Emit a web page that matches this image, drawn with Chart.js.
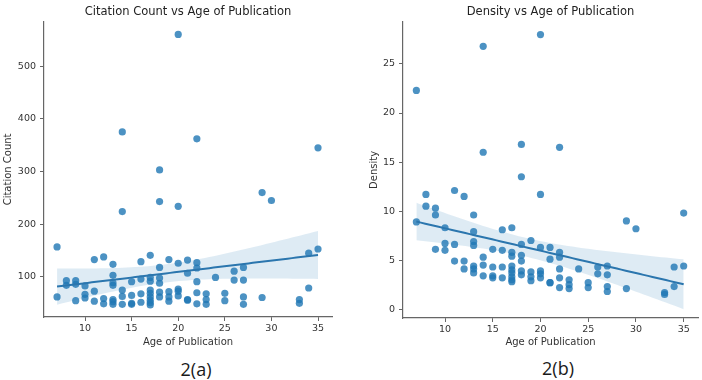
<!DOCTYPE html>
<html><head><meta charset="utf-8">
<script src="https://cdn.jsdelivr.net/npm/chart.js@4/dist/chart.umd.min.js"></script>
<style>
html,body{margin:0;padding:0;background:#fff;width:702px;height:380px;overflow:hidden;position:relative;}
canvas{position:absolute;top:0;}
.cap{position:absolute;font-family:'Open Sans',sans-serif;font-size:18px;color:#1a1a1a;transform:translate(-50%,-50%);white-space:nowrap;}
</style></head><body>
<canvas id="c1" width="345" height="352" style="left:0px;width:345px;height:352px"></canvas>
<canvas id="c2" width="340" height="352" style="left:362px;width:340px;height:352px"></canvas>
<div class="cap" style="left:196px;top:369px">2(a)</div>
<div class="cap" style="left:558px;top:368px">2(b)</div>
<script>
// Age of publication for each paper (x)
const ages = [7,7, 8,8, 9,9,9, 10,10,10, 11,11,11, 12,12,12,
  13,13,13,13,13,13,13, 14,14,14,14,14, 15,15,15,15, 16,16,16,16,
  17,17,17,17,17,17,17,17,17, 18,18,18,18,18,18,18, 19,19,19,19,
  20,20,20,20,20,20, 21,21,21,21, 22,22,22,22,22,22, 23,23,23, 24,
  25,25, 26,26, 27,27,27,27, 29,29, 30, 33,33, 34,34, 35,35];
// Citation count for each paper
const citations = [157,62, 93,84, 93,86,55, 83,67,60, 133,73,54, 138,59,49,
  124,103,89,84,57,53,48, 375,224,75,63,48, 91,65,50,48, 129,96,68,52,
  141,99,92,75,69,62,56,51,47, 303,243,118,98,88,71,62, 133,72,62,54,
  560,234,126,77,73,64, 132,107,57,56, 362,127,117,91,70,49, 68,57,48, 99,
  69,55, 111,94, 118,94,62,48, 260,61, 245, 57,50, 145,79, 345,153];
// Density for each paper
const density = [22.3,8.9, 11.7,10.5, 10.3,9.6,6.1, 8.3,6.7,6.0, 12.1,6.6,4.9, 11.5,4.9,4.1,
  9.6,7.9,6.9,6.5,4.4,4.1,3.7, 26.8,16.0,5.3,4.5,3.4, 6.1,4.3,3.4,3.2, 8.1,6.0,4.3,3.2,
  8.3,5.8,5.4,4.4,4.0,3.7,3.3,3.0,2.8, 16.8,13.5,6.6,5.5,4.9,3.9,3.5, 7.0,3.8,3.3,2.9,
  28.0,11.7,6.3,3.9,3.6,3.2, 6.3,5.1,2.7,2.7, 16.5,5.8,5.3,4.1,3.2,2.2, 3.0,2.5,2.1, 4.1,
  2.7,2.2, 4.3,3.6, 4.4,3.5,2.3,1.8, 9.0,2.1, 8.2, 1.7,1.5, 4.3,2.3, 9.8,4.4];
const xTicks = [10,15,20,25,30,35];
const yTicksCount = [100,200,300,400,500];
const yTicksDensity = [0,5,10,15,20,25];

const BLUE = 'rgba(31,119,180,0.8)';
const LINE = '#2b76ae';
const BAND = 'rgba(31,119,180,0.15)';
const AX = '#666';
const FONT = "'DejaVu Sans', sans-serif";

function regression(xs, ys) {
  const n = xs.length;
  const mx = xs.reduce((a,b)=>a+b,0)/n, my = ys.reduce((a,b)=>a+b,0)/n;
  let sxx=0, sxy=0;
  for (let i=0;i<n;i++){ sxx+=(xs[i]-mx)**2; sxy+=(xs[i]-mx)*(ys[i]-my); }
  const b = sxy/sxx, a = my - b*mx;
  let sse=0; for (let i=0;i<n;i++) sse += (ys[i]-a-b*xs[i])**2;
  const s = Math.sqrt(sse/(n-2));
  const lo = Math.min(...xs), hi = Math.max(...xs);
  const line=[], upper=[], lower=[];
  const steps = 60;
  for (let k=0;k<=steps;k++){
    const x = lo + (hi-lo)*k/steps;
    const yh = a + b*x;
    const h = 1.98*s*Math.sqrt(1/n + (x-mx)**2/sxx);
    line.push({x, y:yh}); upper.push({x, y:yh+h}); lower.push({x, y:yh-h});
  }
  return {line, upper, lower};
}

function makeChart(id, ys, yTicks, yMin, yMax, title, yTitle, yAxisW, yTitlePad, padRight, xAxisH) {
  const pts = ages.map((x,i)=>({x, y: ys[i]}));
  const r = regression(ages, ys);
  return new Chart(document.getElementById(id), {
    type: 'scatter',
    data: { datasets: [
      { data: r.line, showLine: true, borderColor: LINE, borderWidth: 2, pointRadius: 0, order: 0 },
      { data: r.lower, showLine: true, borderWidth: 0, borderColor: 'rgba(0,0,0,0)', pointRadius: 0, order: 1, fill: false },
      { data: r.upper, showLine: true, borderWidth: 0, borderColor: 'rgba(0,0,0,0)', pointRadius: 0, order: 1, fill: '-1', backgroundColor: BAND },
      { data: pts, pointRadius: 3.6, pointBackgroundColor: BLUE, pointBorderWidth: 0, backgroundColor: BLUE, order: 2 }
    ]},
    options: {
      responsive: false, animation: false, events: [],
      layout: { padding: { left: 0, right: padRight, top: 0, bottom: 0 } },
      plugins: {
        legend: { display: false }, tooltip: { enabled: false },
        title: { display: true, text: title, fullSize: false, color: '#222',
          font: { family: FONT, size: 11.5, weight: 'normal', lineHeight: 1.2 }, padding: { top: 5, bottom: 3 } }
      },
      scales: {
        x: { type: 'linear', min: 5.6, max: 36.5,
          afterBuildTicks: s => { s.ticks = xTicks.map(v=>({value:v})); },
          afterFit: s => { s.height = xAxisH; },
          grid: { drawOnChartArea: false, drawTicks: true, tickLength: 4, tickColor: AX },
          border: { display: true, color: AX, width: 1.2 },
          ticks: { color: '#333', padding: 2, font: { family: FONT, size: 9.5 }, maxRotation: 0 },
          title: { display: true, text: 'Age of Publication', color: '#333', font: { family: FONT, size: 10 }, padding: { top: 0, bottom: 4 } }
        },
        y: { type: 'linear', min: yMin, max: yMax,
          afterBuildTicks: s => { s.ticks = yTicks.map(v=>({value:v})); },
          afterFit: s => { s.width = yAxisW; },
          grid: { drawOnChartArea: false, drawTicks: true, tickLength: 4, tickColor: AX },
          border: { display: true, color: AX, width: 1.2 },
          ticks: { color: '#333', padding: 4, font: { family: FONT, size: 9.5 } },
          title: { display: true, text: yTitle, color: '#333', font: { family: FONT, size: 10 }, padding: { top: yTitlePad, bottom: 0 } }
        }
      }
    }
  });
}

makeChart('c1', citations, yTicksCount, 24, 584, 'Citation Count vs Age of Publication', 'Citation Count', 44, 2, 13, 35);
makeChart('c2', density, yTicksDensity, -0.9, 29.3, 'Density vs Age of Publication', 'Density', 41, 6, 4, 34);
</script>
</body></html>
